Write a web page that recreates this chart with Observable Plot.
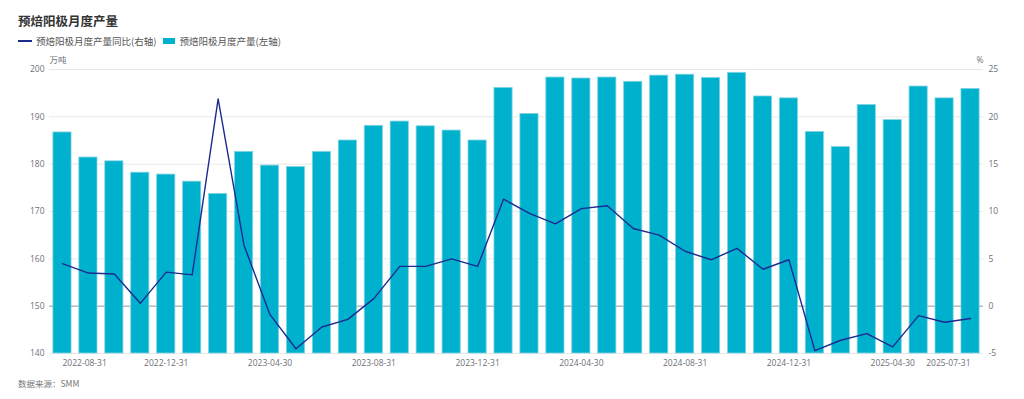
<!DOCTYPE html>
<html>
<head>
<meta charset="utf-8">
<script src="https://cdn.jsdelivr.net/npm/d3@7"></script>
<script src="https://cdn.jsdelivr.net/npm/@observablehq/plot@0.6"></script>
<style>
  html, body { margin: 0; padding: 0; background: #fff; }
  body { width: 1024px; height: 399px; overflow: hidden; font-family: "Open Sans", "Noto Sans CJK SC", sans-serif; }
  .title { padding: 13px 0 0 18px; height: 16px; line-height: 16px; font-size: 12.5px; font-weight: bold; color: #333; font-family: "Noto Sans CJK SC", sans-serif; }
  .legend { margin-top: 5px; height: 14px; line-height: 14px; padding-left: 18px; display: flex; align-items: center; font-size: 9.5px; color: #555; font-family: "Noto Sans CJK SC", sans-serif; }
  .legend .sw-line { width: 14px; height: 2px; background: #1c2b8f; margin-right: 4px; }
  .legend .sw-rect { width: 12px; height: 6px; background: #00b1cd; margin: 0 4px 0 7px; }
  .caption { padding-left: 18px; font-size: 8.5px; line-height: 10px; color: #777; font-family: "Noto Sans CJK SC", sans-serif; }
  #chart svg { display: block; }
</style>
</head>
<body>
<div class="title">预焙阳极月度产量</div>
<div class="legend">
  <span class="sw-line"></span><span>预焙阳极月度产量同比(右轴)</span>
  <span class="sw-rect"></span><span>预焙阳极月度产量(左轴)</span>
</div>
<div id="chart"></div>
<div class="caption">数据来源：SMM</div>
<script>
const months = [
  "2022-08-31","2022-09-30","2022-10-31","2022-11-30","2022-12-31",
  "2023-01-31","2023-02-28","2023-03-31","2023-04-30","2023-05-31","2023-06-30","2023-07-31",
  "2023-08-31","2023-09-30","2023-10-31","2023-11-30","2023-12-31",
  "2024-01-31","2024-02-29","2024-03-31","2024-04-30","2024-05-31","2024-06-30","2024-07-31",
  "2024-08-31","2024-09-30","2024-10-31","2024-11-30","2024-12-31",
  "2025-01-31","2025-02-28","2025-03-31","2025-04-30","2025-05-31","2025-06-30","2025-07-31"
];
// 预焙阳极月度产量 (万吨, left axis)
const output = [
  186.7, 181.4, 180.6, 178.2, 177.8,
  176.3, 173.7, 182.6, 179.7, 179.4, 182.6, 185.0,
  188.1, 189.0, 188.0, 187.1, 185.0,
  196.1, 190.6, 198.3, 198.1, 198.3, 197.4, 198.7,
  198.9, 198.2, 199.3, 194.3, 193.9,
  186.8, 183.6, 192.5, 189.3, 196.4, 193.9, 195.9
];
// 预焙阳极月度产量同比 (%, right axis)
const yoy = [
  4.5, 3.5, 3.4, 0.3, 3.6,
  3.3, 21.9, 6.4, -0.9, -4.5, -2.2, -1.4,
  0.8, 4.2, 4.2, 5.0, 4.2,
  11.3, 9.8, 8.7, 10.3, 10.6, 8.2, 7.5,
  5.8, 4.9, 6.1, 3.9, 4.9,
  -4.7, -3.6, -2.9, -4.3, -1.0, -1.7, -1.3
];
const leftTicks = [140, 150, 160, 170, 180, 190, 200];
const rightTicks = [-5, 0, 5, 10, 15, 20, 25];
const xTickLabels = ["2022-08-31","2022-12-31","2023-04-30","2023-08-31","2023-12-31","2024-04-30","2024-08-31","2024-12-31","2025-04-30","2025-07-31"];

// map right axis (%) onto left axis (万吨) scale
const leftDomain = [leftTicks[0], leftTicks[leftTicks.length - 1]];
const rightDomain = [rightTicks[0], rightTicks[rightTicks.length - 1]];
const toLeft = d3.scaleLinear().domain(rightDomain).range(leftDomain);
const rightLabel = d => String(Math.round(toLeft.invert(d) * 100) / 100);

const data = months.map((m, i) => ({month: m, output: output[i], yoy: yoy[i]}));

const barColor = "#00b1cd";
const lineColor = "#1c2b8f";

const chart = Plot.plot({
  width: 1024,
  height: 330,
  marginTop: 21,
  marginBottom: 25,
  marginLeft: 49,
  marginRight: 41,
  style: { fontFamily: "'Open Sans','Noto Sans CJK SC',sans-serif", fontSize: "8.5px", color: "#6e7079", background: "transparent" },
  x: { type: "band", domain: months, paddingInner: 0.3, paddingOuter: 0.15, label: null, axis: null },
  y: { domain: leftDomain, label: null, axis: null },
  marks: [
    Plot.gridY(leftTicks, { stroke: "#e8e8e8", strokeOpacity: 1 }),
    Plot.ruleY([toLeft(0)], { stroke: "#a0a0a0", strokeWidth: 1 }),
    Plot.barY(data, { x: "month", y1: leftDomain[0], y2: "output", fill: barColor, stroke: "#7fd4e3", strokeWidth: 0.8 }),
    Plot.line(data, { x: "month", y: d => toLeft(d.yoy), stroke: lineColor, strokeWidth: 1.4 }),
    Plot.axisY(leftTicks, { anchor: "left", tickSize: 0, tickPadding: 5, label: null, tickFormat: d => String(d) }),
    Plot.axisY(rightTicks.map(toLeft), { anchor: "right", tickSize: 0, tickPadding: 5, label: null, tickFormat: rightLabel }),
    Plot.axisX(xTickLabels.slice(1, -1), { tickSize: 0, tickPadding: 6, label: null }),
    Plot.axisX(xTickLabels.slice(0, 1), { tickSize: 0, tickPadding: 6, label: null, textAnchor: "start" }),
    Plot.axisX(xTickLabels.slice(-1), { tickSize: 0, tickPadding: 6, label: null, textAnchor: "end" }),
    Plot.text(["万吨"], { frameAnchor: "top-left", textAnchor: "start", dy: -13, fontFamily: "'Noto Sans CJK SC',sans-serif", fill: "#6e7079" }),
    Plot.text(["%"], { frameAnchor: "top-right", textAnchor: "end", dy: -13, fill: "#6e7079" })
  ]
});
document.getElementById("chart").append(chart);
</script>
</body>
</html>
